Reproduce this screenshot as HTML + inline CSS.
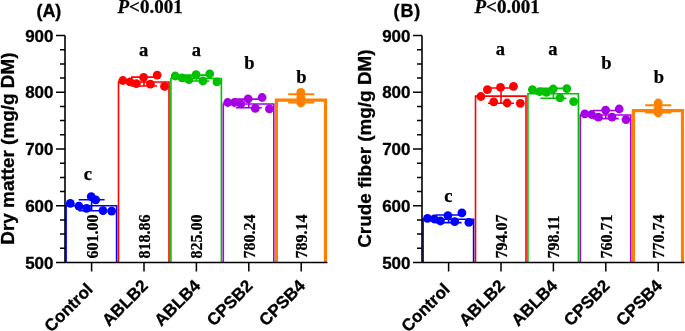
<!DOCTYPE html>
<html><head><meta charset="utf-8"><style>
html,body{margin:0;padding:0;background:#fff;}
svg{display:block;will-change:transform;}
.s{font-family:"Liberation Sans",sans-serif;font-weight:bold;fill:#000;stroke:#000;stroke-width:0.3px;}
.t{font-family:"Liberation Serif",serif;font-weight:bold;fill:#000;stroke:#000;stroke-width:0.25px;}
</style></head><body>
<svg width="685" height="331" viewBox="0 0 685 331">
<rect width="685" height="331" fill="#fff"/>
<g>
<path d="M66.10 262.50V205.68H116.60V262.50" fill="none" stroke="#0000FF" stroke-width="1.6"/>
<path d="M118.50 262.50V82.05H169.00V262.50" fill="none" stroke="#FF0000" stroke-width="1.6"/>
<path d="M170.90 262.50V78.56H221.40V262.50" fill="none" stroke="#00C000" stroke-width="1.6"/>
<path d="M223.30 262.50V103.96H273.80V262.50" fill="none" stroke="#A600E6" stroke-width="1.6"/>
<path d="M276.40 262.50V100.11H325.50V262.50" fill="none" stroke="#FF8000" stroke-width="3.2"/>
<path d="M78.60 199.68H104.60M78.60 210.68H104.60M91.60 199.68V210.68" stroke="#0000FF" stroke-width="1.6" fill="none"/>
<circle cx="70.3" cy="203.4" r="4.4" fill="#0000FF"/>
<circle cx="78.9" cy="206.1" r="4.4" fill="#0000FF"/>
<circle cx="86.6" cy="208.4" r="4.4" fill="#0000FF"/>
<circle cx="91.2" cy="196.6" r="4.4" fill="#0000FF"/>
<circle cx="95.7" cy="199.8" r="4.4" fill="#0000FF"/>
<circle cx="103" cy="210.6" r="4.4" fill="#0000FF"/>
<circle cx="111.6" cy="211.1" r="4.4" fill="#0000FF"/>
<path d="M131.00 77.15H157.00M131.00 85.95H157.00M144.00 77.15V85.95" stroke="#FF0000" stroke-width="1.6" fill="none"/>
<circle cx="122.8" cy="80.5" r="4.4" fill="#FF0000"/>
<circle cx="130" cy="81.9" r="4.4" fill="#FF0000"/>
<circle cx="136.4" cy="83.7" r="4.4" fill="#FF0000"/>
<circle cx="143.6" cy="77.3" r="4.4" fill="#FF0000"/>
<circle cx="150.4" cy="84.1" r="4.4" fill="#FF0000"/>
<circle cx="157.2" cy="75.1" r="4.4" fill="#FF0000"/>
<circle cx="164.5" cy="86.4" r="4.4" fill="#FF0000"/>
<path d="M183.40 75.16H209.40M183.40 80.96H209.40M196.40 75.16V80.96" stroke="#00C000" stroke-width="1.6" fill="none"/>
<circle cx="175.2" cy="76" r="4.4" fill="#00C000"/>
<circle cx="182" cy="77.9" r="4.4" fill="#00C000"/>
<circle cx="188.8" cy="79.7" r="4.4" fill="#00C000"/>
<circle cx="196.1" cy="74.7" r="4.4" fill="#00C000"/>
<circle cx="202.9" cy="81" r="4.4" fill="#00C000"/>
<circle cx="209.7" cy="73.8" r="4.4" fill="#00C000"/>
<circle cx="216.9" cy="81.9" r="4.4" fill="#00C000"/>
<path d="M235.80 99.16H261.80M235.80 107.76H261.80M248.80 99.16V107.76" stroke="#A600E6" stroke-width="1.6" fill="none"/>
<circle cx="227.7" cy="102.5" r="4.4" fill="#A600E6"/>
<circle cx="234.5" cy="102.5" r="4.4" fill="#A600E6"/>
<circle cx="240.8" cy="103.9" r="4.4" fill="#A600E6"/>
<circle cx="248.1" cy="98.9" r="4.4" fill="#A600E6"/>
<circle cx="255.3" cy="108.4" r="4.4" fill="#A600E6"/>
<circle cx="262.1" cy="97.5" r="4.4" fill="#A600E6"/>
<circle cx="269.4" cy="108.8" r="4.4" fill="#A600E6"/>
<path d="M288.20 94.21H314.20M288.20 102.61H314.20M301.20 94.21V102.61" stroke="#FF8000" stroke-width="2.0" fill="none"/>
<circle cx="300.8" cy="92.4" r="4.4" fill="#FF8000"/>
<circle cx="300.8" cy="97.5" r="4.4" fill="#FF8000"/>
<circle cx="300.8" cy="103.0" r="4.4" fill="#FF8000"/>
<path d="M65.00 35.50V262.50" stroke="#000" stroke-width="1.6" fill="none"/>
<path d="M56.00 262.50H327.40" stroke="#000" stroke-width="1.5" fill="none"/>
<path d="M60.00 248.31H65.00M60.00 234.12H65.00M60.00 219.94H65.00M56.00 205.75H65.00M60.00 191.56H65.00M60.00 177.38H65.00M60.00 163.19H65.00M56.00 149.00H65.00M60.00 134.81H65.00M60.00 120.62H65.00M60.00 106.44H65.00M56.00 92.25H65.00M60.00 78.06H65.00M60.00 63.88H65.00M60.00 49.69H65.00M56.00 35.50H65.00M91.60 262.50V271.50M144.00 262.50V271.50M196.40 262.50V271.50M248.80 262.50V271.50M301.20 262.50V271.50" stroke="#000" stroke-width="1.5" fill="none"/>
<text x="53.50" y="268.70" class="s" font-size="17" text-anchor="end">500</text>
<text x="53.50" y="211.95" class="s" font-size="17" text-anchor="end">600</text>
<text x="53.50" y="155.20" class="s" font-size="17" text-anchor="end">700</text>
<text x="53.50" y="98.45" class="s" font-size="17" text-anchor="end">800</text>
<text x="53.50" y="41.70" class="s" font-size="17" text-anchor="end">900</text>
<text transform="translate(13.70 148.60) rotate(-90)" class="s" font-size="18.9" text-anchor="middle">Dry matter (mg/g DM)</text>
<text transform="translate(97.60 258.60) rotate(-90)" class="t" font-size="16">601.00</text>
<text transform="translate(150.00 258.60) rotate(-90)" class="t" font-size="16">818.86</text>
<text transform="translate(202.40 258.60) rotate(-90)" class="t" font-size="16">825.00</text>
<text transform="translate(254.80 258.60) rotate(-90)" class="t" font-size="16">780.24</text>
<text transform="translate(307.20 258.60) rotate(-90)" class="t" font-size="16">789.14</text>
<text x="87.90" y="179.90" class="t" font-size="18.5" text-anchor="middle">c</text>
<text x="143.70" y="56.00" class="t" font-size="18.5" text-anchor="middle">a</text>
<text x="196.30" y="56.00" class="t" font-size="18.5" text-anchor="middle">a</text>
<text x="249.40" y="69.30" class="t" font-size="18.5" text-anchor="middle">b</text>
<text x="301.50" y="82.60" class="t" font-size="18.5" text-anchor="middle">b</text>
<text transform="translate(93.90 290.30) rotate(-45)" class="s" font-size="17" text-anchor="end">Control</text>
<text transform="translate(149.00 286.90) rotate(-45)" class="s" font-size="17" text-anchor="end">ABLB2</text>
<text transform="translate(201.40 286.90) rotate(-45)" class="s" font-size="17" text-anchor="end">ABLB4</text>
<text transform="translate(253.80 286.90) rotate(-45)" class="s" font-size="17" text-anchor="end">CPSB2</text>
<text transform="translate(306.20 286.90) rotate(-45)" class="s" font-size="17" text-anchor="end">CPSB4</text>
<text x="36.60" y="16.6" class="s" font-size="18" letter-spacing="-0.2">(A)</text>
<text x="117.50" y="12.6" class="t" font-size="19"><tspan font-style="italic">P</tspan>&lt;0.001</text>
</g>
<g>
<path d="M423.10 262.50V219.30H473.60V262.50" fill="none" stroke="#0000FF" stroke-width="1.6"/>
<path d="M475.50 262.50V96.12H526.00V262.50" fill="none" stroke="#FF0000" stroke-width="1.6"/>
<path d="M527.90 262.50V93.82H578.40V262.50" fill="none" stroke="#00C000" stroke-width="1.6"/>
<path d="M580.30 262.50V115.05H630.80V262.50" fill="none" stroke="#A600E6" stroke-width="1.6"/>
<path d="M633.40 262.50V110.56H682.50V262.50" fill="none" stroke="#FF8000" stroke-width="3.2"/>
<path d="M435.60 215.00H461.60M435.60 222.60H461.60M448.60 215.00V222.60" stroke="#0000FF" stroke-width="1.6" fill="none"/>
<circle cx="427.5" cy="218.3" r="4.4" fill="#0000FF"/>
<circle cx="434.3" cy="219" r="4.4" fill="#0000FF"/>
<circle cx="440.4" cy="221" r="4.4" fill="#0000FF"/>
<circle cx="447.9" cy="215.6" r="4.4" fill="#0000FF"/>
<circle cx="454.7" cy="221.7" r="4.4" fill="#0000FF"/>
<circle cx="461.9" cy="212.9" r="4.4" fill="#0000FF"/>
<circle cx="468.9" cy="222.4" r="4.4" fill="#0000FF"/>
<path d="M488.00 87.97H514.00M488.00 103.27H514.00M501.00 87.97V103.27" stroke="#FF0000" stroke-width="1.6" fill="none"/>
<circle cx="480.8" cy="96.5" r="4.4" fill="#FF0000"/>
<circle cx="487.4" cy="89.7" r="4.4" fill="#FF0000"/>
<circle cx="493.7" cy="101.9" r="4.4" fill="#FF0000"/>
<circle cx="500.5" cy="87.4" r="4.4" fill="#FF0000"/>
<circle cx="507.1" cy="103" r="4.4" fill="#FF0000"/>
<circle cx="513.5" cy="86.3" r="4.4" fill="#FF0000"/>
<circle cx="520.3" cy="103.3" r="4.4" fill="#FF0000"/>
<path d="M540.40 88.42H566.40M540.40 98.22H566.40M553.40 88.42V98.22" stroke="#00C000" stroke-width="1.6" fill="none"/>
<circle cx="532.4" cy="89.7" r="4.4" fill="#00C000"/>
<circle cx="539.6" cy="91.7" r="4.4" fill="#00C000"/>
<circle cx="546.4" cy="92.4" r="4.4" fill="#00C000"/>
<circle cx="553.2" cy="89" r="4.4" fill="#00C000"/>
<circle cx="560" cy="97.8" r="4.4" fill="#00C000"/>
<circle cx="566.8" cy="88.6" r="4.4" fill="#00C000"/>
<circle cx="573.6" cy="101.6" r="4.4" fill="#00C000"/>
<path d="M592.80 110.50H618.80M592.80 118.60H618.80M605.80 110.50V118.60" stroke="#A600E6" stroke-width="1.6" fill="none"/>
<circle cx="584.8" cy="113.8" r="4.4" fill="#A600E6"/>
<circle cx="591.6" cy="114.5" r="4.4" fill="#A600E6"/>
<circle cx="598.4" cy="117.2" r="4.4" fill="#A600E6"/>
<circle cx="605.6" cy="110.1" r="4.4" fill="#A600E6"/>
<circle cx="612" cy="117.2" r="4.4" fill="#A600E6"/>
<circle cx="619.2" cy="109" r="4.4" fill="#A600E6"/>
<circle cx="626" cy="119.6" r="4.4" fill="#A600E6"/>
<path d="M645.20 105.26H671.20M645.20 112.46H671.20M658.20 105.26V112.46" stroke="#FF8000" stroke-width="2.0" fill="none"/>
<circle cx="658.2" cy="103" r="4.4" fill="#FF8000"/>
<circle cx="658.2" cy="108.5" r="4.4" fill="#FF8000"/>
<circle cx="658.2" cy="113" r="4.4" fill="#FF8000"/>
<path d="M422.00 35.50V262.50" stroke="#000" stroke-width="1.6" fill="none"/>
<path d="M413.00 262.50H684.40" stroke="#000" stroke-width="1.5" fill="none"/>
<path d="M417.00 248.31H422.00M417.00 234.12H422.00M417.00 219.94H422.00M413.00 205.75H422.00M417.00 191.56H422.00M417.00 177.38H422.00M417.00 163.19H422.00M413.00 149.00H422.00M417.00 134.81H422.00M417.00 120.62H422.00M417.00 106.44H422.00M413.00 92.25H422.00M417.00 78.06H422.00M417.00 63.88H422.00M417.00 49.69H422.00M413.00 35.50H422.00M448.60 262.50V271.50M501.00 262.50V271.50M553.40 262.50V271.50M605.80 262.50V271.50M658.20 262.50V271.50" stroke="#000" stroke-width="1.5" fill="none"/>
<text x="410.50" y="268.70" class="s" font-size="17" text-anchor="end">500</text>
<text x="410.50" y="211.95" class="s" font-size="17" text-anchor="end">600</text>
<text x="410.50" y="155.20" class="s" font-size="17" text-anchor="end">700</text>
<text x="410.50" y="98.45" class="s" font-size="17" text-anchor="end">800</text>
<text x="410.50" y="41.70" class="s" font-size="17" text-anchor="end">900</text>
<text transform="translate(370.70 148.60) rotate(-90)" class="s" font-size="18.9" text-anchor="middle">Crude fiber (mg/g DM)</text>
<text transform="translate(507.00 258.60) rotate(-90)" class="t" font-size="16">794.07</text>
<text transform="translate(559.40 258.60) rotate(-90)" class="t" font-size="16">798.11</text>
<text transform="translate(611.80 258.60) rotate(-90)" class="t" font-size="16">760.71</text>
<text transform="translate(664.20 258.60) rotate(-90)" class="t" font-size="16">770.74</text>
<text x="448.40" y="201.60" class="t" font-size="18.5" text-anchor="middle">c</text>
<text x="500.30" y="55.30" class="t" font-size="18.5" text-anchor="middle">a</text>
<text x="552.80" y="55.30" class="t" font-size="18.5" text-anchor="middle">a</text>
<text x="606.50" y="69.30" class="t" font-size="18.5" text-anchor="middle">b</text>
<text x="658.90" y="82.60" class="t" font-size="18.5" text-anchor="middle">b</text>
<text transform="translate(450.90 290.30) rotate(-45)" class="s" font-size="17" text-anchor="end">Control</text>
<text transform="translate(506.00 286.90) rotate(-45)" class="s" font-size="17" text-anchor="end">ABLB2</text>
<text transform="translate(558.40 286.90) rotate(-45)" class="s" font-size="17" text-anchor="end">ABLB4</text>
<text transform="translate(610.80 286.90) rotate(-45)" class="s" font-size="17" text-anchor="end">CPSB2</text>
<text transform="translate(663.20 286.90) rotate(-45)" class="s" font-size="17" text-anchor="end">CPSB4</text>
<text x="393.60" y="16.6" class="s" font-size="18" letter-spacing="0.8">(B)</text>
<text x="474.50" y="12.6" class="t" font-size="19"><tspan font-style="italic">P</tspan>&lt;0.001</text>
</g>
</svg>
</body></html>
